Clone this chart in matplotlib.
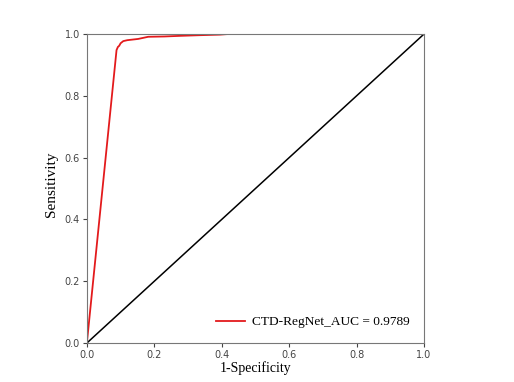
import matplotlib
matplotlib.use('Agg')
import matplotlib.pyplot as plt
import numpy as np

# ROC points
fpr = [0.0, 0.088, 0.092, 0.096, 0.100, 0.108, 0.120, 0.152, 0.182, 0.230, 0.276, 0.330, 0.395, 0.42, 1.0]
tpr = [0.0, 0.948, 0.958, 0.962, 0.970, 0.977, 0.980, 0.984, 0.991, 0.992, 0.994, 0.996, 0.998, 1.0, 1.0]
auc_label = 'CTD-RegNet_AUC = 0.9789'

fig = plt.figure(figsize=(5.14, 3.82), dpi=100)
ax = fig.add_axes([0.169, 0.102, 0.656, 0.809])

ax.plot(fpr, tpr, color='#e31a1c', lw=1.3, label=auc_label)
ax.plot([0, 1], [0, 1], color='black', lw=1.1)

ax.set_xlim(0, 1)
ax.set_ylim(0, 1)
ax.set_xticks(np.arange(0, 1.01, 0.2))
ax.set_yticks(np.arange(0, 1.01, 0.2))
ax.tick_params(labelsize=7, colors='#444444', length=3, pad=2)
for s in ax.spines.values():
    s.set_color('#777777')

ax.set_xlabel('1-Specificity', family='Liberation Serif', size=10, labelpad=1)
ax.set_ylabel('Sensitivity', family='Liberation Serif', size=11)
ax.yaxis.set_label_coords(-0.085, 0.515)

leg = ax.legend(loc='lower right', frameon=False, prop={'family': 'Liberation Serif', 'size': 9.6},
                handlelength=2.2, handletextpad=0.5, borderaxespad=0.7)

fig.savefig('out.png', dpi=100)
